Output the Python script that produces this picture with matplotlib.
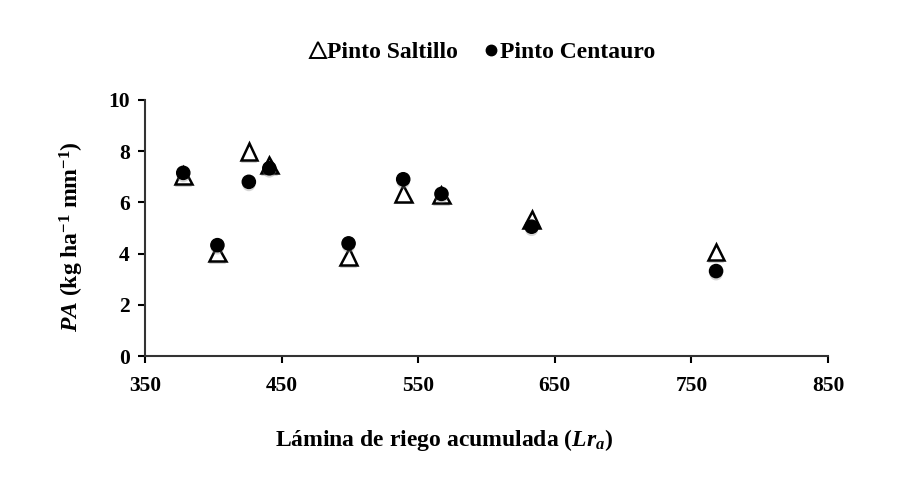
import matplotlib.pyplot as plt
import matplotlib.patheffects as pe

# Lamina de riego acumulada (Lra)
lr_saltillo = [378, 403, 426, 441, 499, 539, 567, 633, 768]
pa_saltillo = [7.04, 4.02, 7.98, 7.46, 3.88, 6.35, 6.29, 5.34, 4.07]

lr_centauro = [378, 403, 426, 441, 499, 539, 567, 633, 768]
pa_centauro = [7.15, 4.33, 6.80, 7.33, 4.40, 6.90, 6.33, 5.05, 3.32]

xticks = [350, 450, 550, 650, 750, 850]
yticks = [0, 2, 4, 6, 8, 10]

plt.rcParams['font.family'] = ['Liberation Serif', 'DejaVu Serif']
plt.rcParams['font.weight'] = 'bold'
plt.rcParams['mathtext.fontset'] = 'custom'
plt.rcParams['mathtext.rm'] = 'Liberation Serif:bold'
plt.rcParams['mathtext.it'] = 'Liberation Serif:italic:bold'
plt.rcParams['mathtext.bf'] = 'Liberation Serif:bold'

fig = plt.figure(figsize=(9.12, 4.82), dpi=100)
ax = fig.add_axes([0.159, 0.261, 0.749, 0.532])

shadow = [pe.SimplePatchShadow(offset=(0, -2), shadow_rgbFace='#888888', alpha=0.35),
          pe.Normal()]

# Pinto Saltillo: open triangles, Pinto Centauro: filled circles
ax.plot(lr_saltillo, pa_saltillo, linestyle='none', marker='^', markersize=12,
        markerfacecolor='white', markeredgecolor='black', markeredgewidth=1.8,
        path_effects=shadow, zorder=3)
ax.plot(lr_centauro, pa_centauro, linestyle='none', marker='o', markersize=9.5,
        markerfacecolor='black', markeredgecolor='black',
        path_effects=shadow, zorder=4)

# legend built by hand so markers sit close to the text
h1 = plt.Line2D([], [], linestyle='none', marker='^', markersize=11,
                markerfacecolor='white', markeredgecolor='black', markeredgewidth=1.4)
h2 = plt.Line2D([], [], linestyle='none', marker='o', markersize=7.5,
                markerfacecolor='black', markeredgecolor='black')
fig.legend([h1, h2], ['Pinto Saltillo', 'Pinto Centauro'], loc='center',
           bbox_to_anchor=(0.53, 0.892), ncol=2, frameon=False,
           handlelength=0.55, handletextpad=0.12, columnspacing=1.1,
           prop={'size': 17, 'weight': 'bold'})

ax.set_xlim(350, 850)
ax.set_ylim(0, 10)
ax.set_xticks(xticks)
ax.set_yticks(yticks)
ax.tick_params(labelsize=15.5, length=5, width=1.5, direction='out')
ax.tick_params(axis='x', pad=9)
ax.tick_params(axis='y', pad=6)
for lab in ax.get_xticklabels() + ax.get_yticklabels():
    lab.set_fontweight('bold')

for side in ['top', 'right']:
    ax.spines[side].set_visible(False)
for side in ['left', 'bottom']:
    ax.spines[side].set_linewidth(1.5)
    ax.spines[side].set_color('#333333')

ax.set_xlabel(r'Lámina de riego acumulada ($\mathit{Lr_a}$)', fontsize=17,
              fontweight='bold')
ax.xaxis.set_label_coords(0.438, -0.275)
ax.set_ylabel(r'$\mathit{PA}$ (kg ha$^{-1}$ mm$^{-1}$)', fontsize=17,
              fontweight='bold')
ax.yaxis.set_label_coords(-0.087, 0.465)

fig.savefig('out.png', dpi=100)
